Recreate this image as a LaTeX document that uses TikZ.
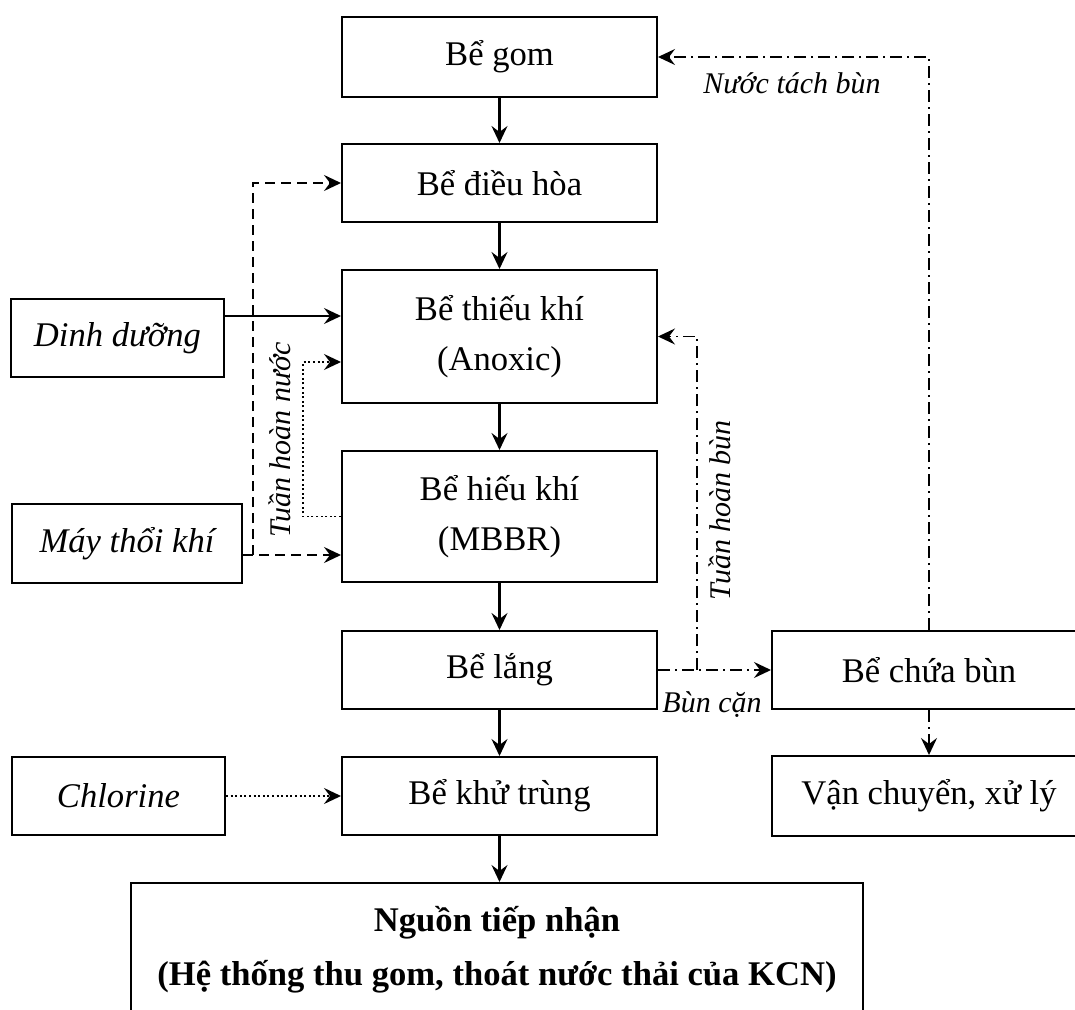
\documentclass[tikz,border=0pt]{standalone}
\usepackage{fontspec}
\setmainfont{Liberation Serif}
\usetikzlibrary{arrows.meta}
\newcommand{\boxfont}{\fontsize{17.3}{25}\selectfont}
\newcommand{\notefont}{\fontsize{15}{18}\selectfont\itshape}

\tikzset{
  tank/.style={draw, line width=1pt, inner sep=0pt, align=center,
    minimum width=157.5pt, font=\boxfont},
  feed/.style={tank, font=\boxfont\itshape},
  flow/.style={line width=1.1pt, -{Stealth[length=8.5pt,width=8pt,inset=3pt]}},
  air/.style={flow, dash pattern=on 5pt off 3pt},
  water/.style={flow, dash pattern=on 1pt off 1.3pt},
  sludge/.style={flow, line width=0.9pt, dash pattern=on 6pt off 2.5pt on 1pt off 2.5pt},
  note/.style={font=\notefont, inner sep=1pt}
}

\begin{document}
\begin{tikzpicture}[x=0.5pt,y=-0.5pt]
  \useasboundingbox (0,0) rectangle (1075,1010);
  \clip (0,0) rectangle (1075,1010);

  % main line
  \node[tank, minimum height=40pt] (gom) at (499.5,57) {Bể gom};
  \node[tank, minimum height=39pt] (dieuhoa) at (499.5,183) {Bể điều hòa};
  \node[tank, minimum height=66.5pt] (thieukhi) at (499.5,336.5) {Bể thiếu khí\\(Anoxic)};
  \node[tank, minimum height=65.5pt] (hieukhi) at (499.5,516.5) {Bể hiếu khí\\(MBBR)};
  \node[tank, minimum height=39pt] (lang) at (499.5,670) {Bể lắng};
  \node[tank, minimum height=39pt] (khutrung) at (499.5,796) {Bể khử trùng};
  \node[tank, minimum width=366pt, minimum height=67pt, font=\boxfont\bfseries] (nguon) at (497,950)
    {Nguồn tiếp nhận\\[2pt](Hệ thống thu gom, thoát nước thải của KCN)};

  % inputs
  \node[feed, minimum width=106.5pt, minimum height=39pt] (dinhduong) at (117.5,338) {Dinh dưỡng};
  \node[feed, minimum width=115pt, minimum height=39.5pt] (maythoi) at (127,543.5) {Máy thổi khí};
  \node[feed, minimum width=106.5pt, minimum height=39pt] (chlorine) at (118.5,796) {Chlorine};

  % sludge line
  \node[tank, minimum width=157pt, minimum height=39pt] (chuabun) at (929,670) {Bể chứa bùn};
  \node[tank, minimum width=157pt, minimum height=40pt] (vanchuyen) at (929,796) {Vận chuyển, xử lý};

  \foreach \a/\b in {gom/dieuhoa, dieuhoa/thieukhi, thieukhi/hieukhi,
                     hieukhi/lang, lang/khutrung, khutrung/nguon}
    \draw[flow] (\a.south) -- (\a.south |- \b.north);

  \draw[flow] ([yshift=11pt]dinhduong.east) -- ([yshift=11pt]dinhduong.east -| thieukhi.west);
  \draw[water] (chlorine) -- (khutrung);

  % air
  \coordinate (split) at (253,555);
  \draw[air] ([yshift=-5.75pt]maythoi.east) -- ([yshift=-5.75pt]maythoi.east -| hieukhi.west);
  \draw[air] (split) |- (dieuhoa.west);

  % water recirculation
  \coordinate (back) at (303,362);
  \draw[water, line width=0.8pt] (hieukhi.west) -| (back) -- (back -| thieukhi.west);
  \node[note, rotate=90] (tuanhoannuoc) at (280,440) {Tuần hoàn nước};

  % sludge
  \draw[sludge] (lang) -- (chuabun);
  \node[note] (buncan) at (712,705) {Bùn cặn};
  \coordinate (ret) at (697,670);
  \draw[sludge] (ret) |- (thieukhi.east);
  \node[note, rotate=90] (tuanhoanbun) at (720,510) {Tuần hoàn bùn};
  \draw[sludge, line width=0.6pt] (chuabun.north) |- (gom.east);
  \node[note] (nuoctach) at (792,83) {Nước tách bùn};
  \draw[sludge] (chuabun) -- (vanchuyen);
\end{tikzpicture}
\end{document}
